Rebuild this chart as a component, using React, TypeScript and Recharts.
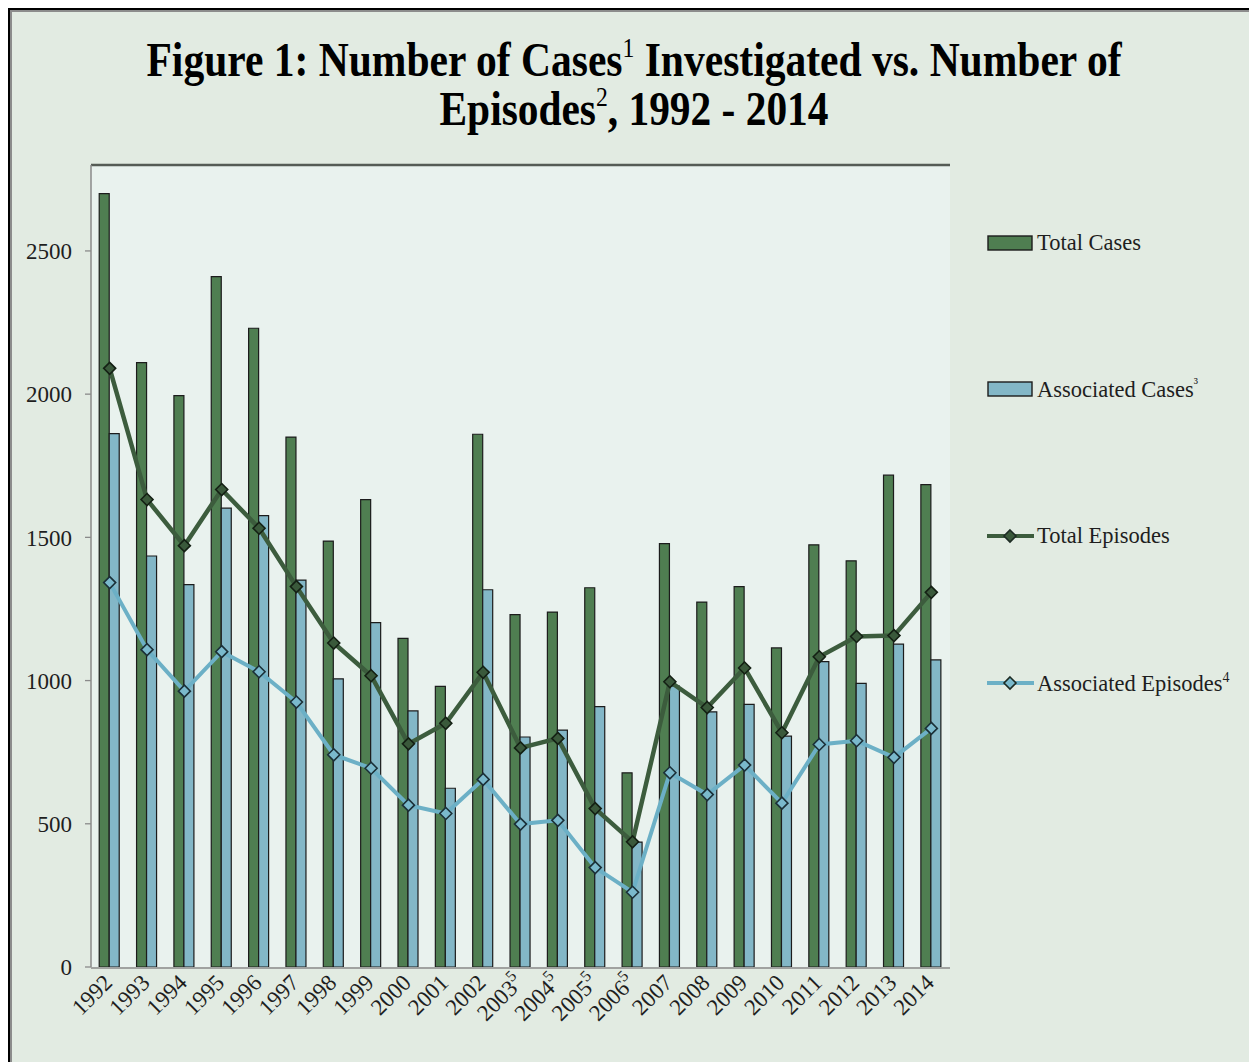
import { ComposedChart, Bar, Line, XAxis, YAxis, CartesianGrid, ReferenceLine } from 'recharts';

const years = ['1992', '1993', '1994', '1995', '1996', '1997', '1998', '1999', '2000', '2001', '2002', '2003', '2004', '2005', '2006', '2007', '2008', '2009', '2010', '2011', '2012', '2013', '2014'];
const footnotes = ['', '', '', '', '', '', '', '', '', '', '', '5', '5', '5', '5', '', '', '', '', '', '', '', ''];
const totalCases = [2700, 2110, 1995, 2410, 2230, 1850, 1487, 1632, 1147, 980, 1860, 1230, 1239, 1324, 678, 1478, 1274, 1328, 1114, 1474, 1418, 1717, 1684];
const associatedCases = [1862, 1435, 1335, 1602, 1576, 1351, 1006, 1202, 894, 624, 1317, 803, 827, 909, 436, 981, 891, 917, 806, 1066, 990, 1127, 1072];
const totalEpisodes = [2090, 1632, 1471, 1667, 1532, 1328, 1131, 1017, 779, 851, 1029, 765, 798, 553, 437, 996, 906, 1044, 818, 1083, 1154, 1157, 1308];
const associatedEpisodes = [1342, 1108, 963, 1101, 1031, 925, 741, 694, 565, 536, 655, 499, 512, 347, 261, 678, 602, 705, 572, 777, 790, 732, 833];
const yTicks = [0, 500, 1000, 1500, 2000, 2500];
const boundaryTicks = years.map((_, i) => i).concat(years.length);

const data = years.map((year, i) => ({
  year,
  totalCases: totalCases[i],
  associatedCases: associatedCases[i],
  totalEpisodes: totalEpisodes[i],
  associatedEpisodes: associatedEpisodes[i],
}));

const SERIF = '"Liberation Serif", "Times New Roman", serif';
const GREEN = '#4f7e51';
const BLUE = '#83b7c7';
const DARK_LINE = '#3c5c3d';
const LIGHT_LINE = '#6cb0c6';

const Diamond = ({ cx, cy, fill, stroke }: any) => {
  if (cx == null || cy == null) return null;
  const r = 6;
  return (
    <path
      d={`M${cx},${cy - r} L${cx + r},${cy} L${cx},${cy + r} L${cx - r},${cy} Z`}
      fill={fill}
      stroke={stroke}
      strokeWidth={1.6}
    />
  );
};

const YearTick = ({ x, y, payload }: any) => {
  const note = footnotes[payload.index];
  return (
    <g transform={`translate(${x + 4},${y + 9})`}>
      <text transform="rotate(-45)" textAnchor="end" fontSize={23} fill="#1e1e1e" fontFamily={SERIF}>
        {payload.value}
        {note ? <tspan fontSize={16} dy={-10}>{note}</tspan> : null}
      </text>
    </g>
  );
};

const legendItems = [
  { label: 'Total Cases', sup: '', kind: 'bar', color: GREEN, top: 225 },
  { label: 'Associated Cases', sup: '³', kind: 'bar', color: BLUE, top: 371 },
  { label: 'Total Episodes', sup: '', kind: 'line', color: DARK_LINE, dot: '#3a593b', top: 518 },
  { label: 'Associated Episodes', sup: '4', kind: 'line', color: LIGHT_LINE, dot: '#7ab9cc', top: 665 },
];

const LegendSwatch = ({ item }: any) => (
  <svg width={48} height={16} style={{ display: 'block' }}>
    {item.kind === 'bar' ? (
      <rect x={1} y={1} width={44} height={14} fill={item.color} stroke="#1c1c1c" strokeWidth={1.4} />
    ) : (
      <>
        <line x1={0} y1={8} x2={47} y2={8} stroke={item.color} strokeWidth={4} />
        <Diamond cx={23} cy={8} fill={item.dot} stroke="#1d2b24" />
      </>
    )}
  </svg>
);

export default function App() {
  return (
    <div
      style={{
        position: 'relative',
        width: 1245,
        height: 1054,
        background: '#e2ebe2',
        borderTop: '2px solid #000',
        borderLeft: '2px solid #000',
        borderRight: '2px solid #777',
        boxShadow: 'inset 2px 2px 0 #8c8c8c',
        overflow: 'hidden',
        fontFamily: SERIF,
      }}
    >
      <style>{'html,body{overflow:hidden}'}</style>
      <svg width={1245} height={140} style={{ position: 'absolute', left: 0, top: 0 }}>
        <text
          x={624}
          y={66}
          textAnchor="middle"
          fontFamily={SERIF}
          fontWeight="bold"
          fontSize={49}
          fill="#000"
          textLength={975}
          lengthAdjust="spacingAndGlyphs"
        >
          Figure 1: Number of Cases
          <tspan fontWeight="normal" fontSize={28} dy={-19}>1</tspan>
          <tspan dy={19}> Investigated vs. Number of</tspan>
        </text>
        <text
          x={624}
          y={115}
          textAnchor="middle"
          fontFamily={SERIF}
          fontWeight="bold"
          fontSize={49}
          fill="#000"
          textLength={389}
          lengthAdjust="spacingAndGlyphs"
        >
          Episodes
          <tspan fontWeight="normal" fontSize={28} dy={-19}>2</tspan>
          <tspan dy={19}>, 1992 - 2014</tspan>
        </text>
      </svg>

      <div style={{ position: 'absolute', left: 0, top: 140 }}>
        <ComposedChart
          width={960}
          height={912}
          data={data}
          margin={{ top: 15, right: 20, bottom: 0, left: 0 }}
          barGap={0}
          barCategoryGap="22%"
        >
          <CartesianGrid xAxisId="grid" horizontal={false} vertical={false} fill="#e9f2ee" />
          <XAxis
            xAxisId="grid"
            type="number"
            domain={[0, years.length]}
            ticks={boundaryTicks}
            allowDataOverflow
            tick={false}
            tickSize={8}
            tickLine={{ stroke: '#8a8a8a', strokeWidth: 1.3 }}
            axisLine={{ stroke: '#8a8a8a', strokeWidth: 1.5 }}
            height={94}
          />
          <XAxis
            xAxisId="cat"
            dataKey="year"
            axisLine={false}
            tickLine={false}
            interval={0}
            height={1}
            tick={<YearTick />}
          />
          <YAxis
            domain={[0, 2800]}
            ticks={yTicks}
            allowDataOverflow
            width={81}
            tickSize={6}
            tickMargin={13}
            tickLine={{ stroke: '#8a8a8a', strokeWidth: 1.3 }}
            axisLine={{ stroke: '#8a8a8a', strokeWidth: 1.5 }}
            tick={{ fontSize: 23, fill: '#1e1e1e', fontFamily: SERIF }}
          />
          <ReferenceLine xAxisId="grid" y={2800} stroke="#555b55" strokeWidth={2.5} />
          <ReferenceLine xAxisId="grid" x={years.length} stroke="#555b55" strokeWidth={2.5} />
          <Bar xAxisId="cat" dataKey="totalCases" fill={GREEN} stroke="#1c1c1c" strokeWidth={1.2} isAnimationActive={false} />
          <Bar xAxisId="cat" dataKey="associatedCases" fill={BLUE} stroke="#1c1c1c" strokeWidth={1.2} isAnimationActive={false} />
          <Line
            xAxisId="cat"
            type="linear"
            dataKey="totalEpisodes"
            stroke={DARK_LINE}
            strokeWidth={4.5}
            dot={(p: any) => <Diamond key={`te-${p.index}`} cx={p.cx} cy={p.cy} fill="#3a593b" stroke="#142014" />}
            activeDot={false}
            isAnimationActive={false}
          />
          <Line
            xAxisId="cat"
            type="linear"
            dataKey="associatedEpisodes"
            stroke={LIGHT_LINE}
            strokeWidth={4}
            dot={(p: any) => <Diamond key={`ae-${p.index}`} cx={p.cx} cy={p.cy} fill="#7ab9cc" stroke="#1b3038" />}
            activeDot={false}
            isAnimationActive={false}
          />
        </ComposedChart>
      </div>

      {legendItems.map((item) => (
        <div
          key={item.label}
          style={{ position: 'absolute', left: 977, top: item.top - 8, display: 'flex', alignItems: 'center', height: 32 }}
        >
          <LegendSwatch item={item} />
          <span style={{ fontSize: 22.5, color: '#1e1e1e', marginLeft: 2, whiteSpace: 'nowrap' }}>
            {item.label}
            {item.sup ? <sup style={{ fontSize: 14 }}>{item.sup}</sup> : null}
          </span>
        </div>
      ))}
    </div>
  );
}
